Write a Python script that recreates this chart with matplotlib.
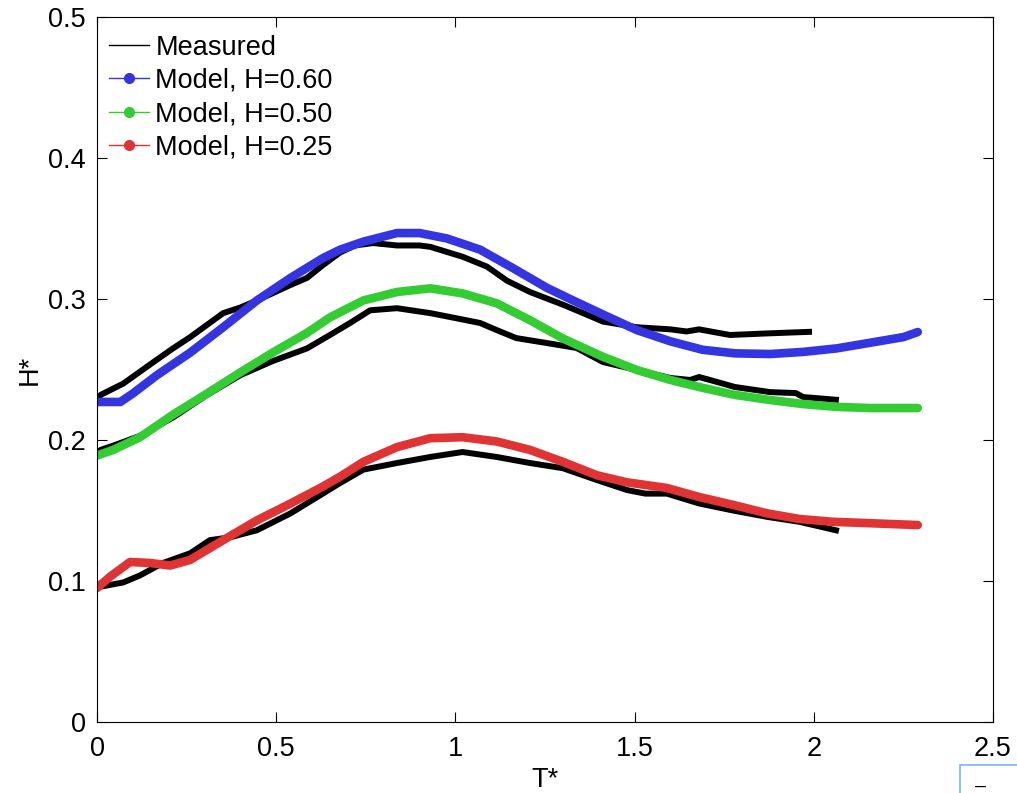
import matplotlib
matplotlib.use("Agg")
import matplotlib.pyplot as plt
from matplotlib.lines import Line2D
from matplotlib.patches import Rectangle

plt.rcParams['font.family'] = ['Liberation Sans', 'DejaVu Sans']

# Measured curves
meas_top_x = [0, 0.01, 0.073, 0.167, 0.212, 0.26, 0.352, 0.40, 0.446, 0.54, 0.586, 0.63, 0.678, 0.72, 0.77, 0.837, 0.90, 0.93, 1.02, 1.088, 1.144, 1.208, 1.30, 1.347, 1.412, 1.506, 1.6, 1.645, 1.68, 1.766, 1.878, 1.995]
meas_top_y = [0.228, 0.232, 0.240, 0.257, 0.265, 0.273, 0.290, 0.294, 0.299, 0.310, 0.315, 0.324, 0.333, 0.338, 0.3397, 0.338, 0.338, 0.337, 0.330, 0.323, 0.313, 0.305, 0.296, 0.291, 0.284, 0.280, 0.2785, 0.277, 0.2785, 0.2745, 0.2757, 0.2768]

meas_mid_x = [0, 0.01, 0.045, 0.12, 0.212, 0.307, 0.40, 0.49, 0.586, 0.65, 0.706, 0.762, 0.837, 0.93, 1.0, 1.069, 1.115, 1.17, 1.255, 1.338, 1.412, 1.506, 1.6, 1.655, 1.68, 1.71, 1.78, 1.878, 1.95, 1.97, 2.07]
meas_mid_y = [0.190, 0.193, 0.196, 0.203, 0.216, 0.232, 0.246, 0.256, 0.265, 0.2745, 0.283, 0.292, 0.2935, 0.290, 0.2865, 0.283, 0.278, 0.2723, 0.2688, 0.2653, 0.2553, 0.2497, 0.244, 0.2426, 0.2447, 0.2426, 0.2376, 0.234, 0.2333, 0.2305, 0.2284]

meas_bot_x = [0, 0.01, 0.073, 0.12, 0.184, 0.26, 0.315, 0.371, 0.446, 0.54, 0.63, 0.678, 0.743, 0.837, 0.93, 1.02, 1.115, 1.208, 1.30, 1.395, 1.479, 1.53, 1.59, 1.68, 1.775, 1.87, 1.96, 2.07]
meas_bot_y = [0.096, 0.096, 0.099, 0.104, 0.1128, 0.1197, 0.129, 0.131, 0.136, 0.148, 0.162, 0.1695, 0.179, 0.1837, 0.188, 0.1915, 0.188, 0.1837, 0.180, 0.1716, 0.1645, 0.162, 0.162, 0.155, 0.150, 0.1455, 0.142, 0.1355]

# Model curves
m60_x = [0, 0.065, 0.10, 0.167, 0.26, 0.352, 0.446, 0.54, 0.63, 0.678, 0.743, 0.837, 0.90, 0.976, 1.069, 1.16, 1.255, 1.32, 1.412, 1.506, 1.6, 1.69, 1.78, 1.878, 1.97, 2.064, 2.157, 2.25, 2.29]
m60_y = [0.227, 0.227, 0.233, 0.246, 0.262, 0.280, 0.299, 0.315, 0.329, 0.335, 0.3407, 0.3468, 0.3468, 0.343, 0.335, 0.322, 0.308, 0.300, 0.289, 0.278, 0.270, 0.264, 0.2615, 0.261, 0.2625, 0.265, 0.269, 0.273, 0.2766]

m50_x = [0, 0.045, 0.12, 0.212, 0.307, 0.40, 0.49, 0.586, 0.65, 0.743, 0.837, 0.93, 1.02, 1.115, 1.208, 1.30, 1.412, 1.506, 1.6, 1.69, 1.78, 1.878, 1.97, 2.064, 2.157, 2.29]
m50_y = [0.189, 0.193, 0.202, 0.218, 0.233, 0.248, 0.262, 0.276, 0.287, 0.299, 0.305, 0.3076, 0.304, 0.297, 0.285, 0.272, 0.259, 0.2497, 0.2426, 0.237, 0.232, 0.2284, 0.2255, 0.2235, 0.2227, 0.2227]

m25_x = [0, 0.036, 0.092, 0.148, 0.204, 0.26, 0.352, 0.446, 0.54, 0.63, 0.678, 0.743, 0.837, 0.93, 1.02, 1.115, 1.208, 1.30, 1.395, 1.479, 1.59, 1.68, 1.775, 1.87, 1.96, 2.054, 2.148, 2.29]
m25_y = [0.095, 0.103, 0.1135, 0.1128, 0.111, 0.115, 0.129, 0.143, 0.155, 0.167, 0.174, 0.1845, 0.195, 0.2013, 0.202, 0.199, 0.193, 0.1845, 0.175, 0.170, 0.166, 0.1596, 0.154, 0.148, 0.144, 0.142, 0.1411, 0.1397]

labels = ["Measured", "Model, H=0.60", "Model, H=0.50", "Model, H=0.25"]
xticks = [0, 0.5, 1, 1.5, 2, 2.5]
xticklabels = ["0", "0.5", "1", "1.5", "2", "2.5"]
yticks = [0, 0.1, 0.2, 0.3, 0.4, 0.5]
yticklabels = ["0", "0.1", "0.2", "0.3", "0.4", "0.5"]

BLUE = '#3434e0'
GREEN = '#33cc33'
RED = '#e03434'
FS = 19.5

fig = plt.figure(figsize=(10.17, 7.93), dpi=100)
ax = fig.add_axes([0.0954, 0.0895, 0.881, 0.889])

kw_m = dict(color='black', lw=4.3, solid_capstyle='butt', solid_joinstyle='round')
ax.plot(meas_top_x, meas_top_y, **kw_m)
ax.plot(meas_mid_x, meas_mid_y, **kw_m)
ax.plot(meas_bot_x, meas_bot_y, **kw_m)

kw = dict(lw=6.2, solid_capstyle='round', solid_joinstyle='round')
ax.plot(m60_x, m60_y, color=BLUE, **kw)
ax.plot(m50_x, m50_y, color=GREEN, **kw)
ax.plot(m25_x, m25_y, color=RED, **kw)

ax.set_xlim(0, 2.5)
ax.set_ylim(0, 0.5)
ax.set_xticks(xticks)
ax.set_xticklabels(xticklabels)
ax.set_yticks(yticks)
ax.set_yticklabels(yticklabels)
ax.tick_params(direction='in', top=True, right=True, labelsize=FS, length=7.5, width=0.8)
ax.tick_params(axis='y', pad=8)
ax.tick_params(axis='x', pad=10)
for s in ax.spines.values():
    s.set_linewidth(0.8)

ax.set_xlabel("T*", fontsize=FS, labelpad=4)
ax.set_ylabel("H*", fontsize=FS, labelpad=4)

handles = [
    Line2D([], [], color='black', lw=1),
    Line2D([], [], color=BLUE, lw=1, marker='o', markersize=7),
    Line2D([], [], color=GREEN, lw=1, marker='o', markersize=7),
    Line2D([], [], color=RED, lw=1, marker='o', markersize=7),
]
leg = ax.legend(handles, labels, loc='upper left', bbox_to_anchor=(-0.006, 1.0),
                frameon=False, fontsize=FS,
                handlelength=1.45, handletextpad=0.25, labelspacing=0.27,
                borderaxespad=0.2, borderpad=0.45)

# small artifact box bottom-right
fig.patches.append(Rectangle((960/1017, -0.01), 60/1017, 28/793 + 0.01, transform=fig.transFigure,
                             fill=False, edgecolor='#7fb0ff', lw=1.2))
fig.text(975/1017, 2/793, "–", fontsize=14, color='black')

fig.savefig("out.png", dpi=100)
